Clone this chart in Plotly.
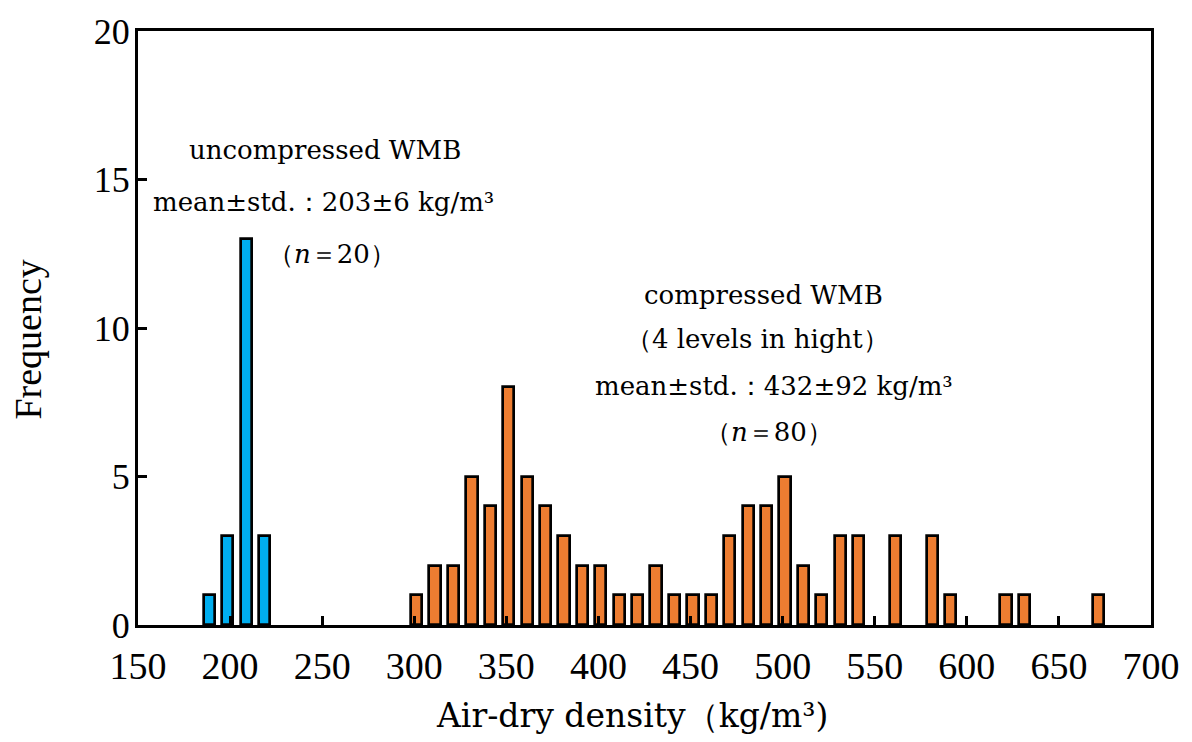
import plotly.graph_objects as go

# ---- data ----
uncomp_bins = [190, 200, 210, 220]
uncomp_freq = [1, 3, 13, 3]

comp_bins = [300, 310, 320, 330, 340, 350, 360, 370, 380, 390, 400, 410, 420, 430,
             440, 450, 460, 470, 480, 490, 500, 510, 520, 530, 540, 560, 580, 590,
             620, 630, 670]
comp_freq = [1, 2, 2, 5, 4, 8, 5, 4, 3, 2, 2, 1, 1, 2,
             1, 1, 1, 3, 4, 4, 5, 2, 1, 3, 3, 3, 3, 1,
             1, 1, 1]

x_ticks = [150, 200, 250, 300, 350, 400, 450, 500, 550, 600, 650, 700]
y_ticks = [0, 5, 10, 15, 20]

BLUE = "#00AEEF"
ORANGE = "#ED7D31"
BAR_W = 6.1

W, H = 1192, 742
ML, MR, MT, MB = 138, 40, 28, 117
PW, PH = W - ML - MR, H - MT - MB


def px2paper(px, py):
    return (px - ML) / PW, (H - MB - py) / PH


fig = go.Figure()
fig.add_trace(go.Bar(
    x=uncomp_bins, y=uncomp_freq, width=BAR_W, offset=-1.3 - BAR_W / 2,
    marker=dict(color=BLUE, line=dict(color="black", width=2.7)),
    name="uncompressed WMB", showlegend=False,
))
fig.add_trace(go.Bar(
    x=comp_bins, y=comp_freq, width=BAR_W, offset=1.3 - BAR_W / 2,
    marker=dict(color=ORANGE, line=dict(color="black", width=2.7)),
    name="compressed WMB", showlegend=False,
))

ann_font = dict(family="DejaVu Serif", size=26, color="black")
notes = [
    (325, 148, "uncompressed WMB"),
    (324, 200, "mean±std.：203±6 kg/m³"),
    (332, 252, "（<i>n</i>＝20）"),
    (764, 293, "compressed WMB"),
    (758, 338, "（4 levels in hight）"),
    (775, 385, "mean±std.：432±92 kg/m³"),
    (770, 431, "（<i>n</i>＝80）"),
]
for px, py, txt in notes:
    ax, ay = px2paper(px, py)
    fig.add_annotation(
        x=ax, y=ay, xref="paper", yref="paper",
        text=txt, showarrow=False, font=ann_font,
        xanchor="center", yanchor="middle",
    )

# axis titles as positioned annotations
tx, ty = px2paper(632, 716)
fig.add_annotation(x=tx, y=ty, xref="paper", yref="paper",
                   text="Air-dry density（kg/m³)", showarrow=False,
                   font=dict(family="DejaVu Serif", size=33, color="black"),
                   xanchor="center", yanchor="middle")
tx, ty = px2paper(28, 338)
fig.add_annotation(x=tx, y=ty, xref="paper", yref="paper",
                   text="Frequency", showarrow=False, textangle=-90,
                   font=dict(family="Liberation Serif", size=38, color="black"),
                   xanchor="center", yanchor="middle")

axis_common = dict(
    showline=True, linecolor="black", linewidth=3, mirror=True,
    ticks="inside", ticklen=9, tickwidth=2.5, tickcolor="black",
    showgrid=False, zeroline=False,
)
fig.update_xaxes(
    range=[150, 700], tickvals=x_ticks, ticktext=[str(v) for v in x_ticks],
    tickfont=dict(family="Liberation Serif", size=38, color="black"),
    ticklabelstandoff=5,
    **axis_common,
)
fig.update_yaxes(
    range=[0, 20], tickvals=y_ticks,
    tickfont=dict(family="Liberation Serif", size=36, color="black"),
    ticklabelstandoff=-2,
    **axis_common,
)
fig.update_layout(
    width=W, height=H,
    margin=dict(l=ML, r=MR, t=MT, b=MB, pad=0),
    paper_bgcolor="white", plot_bgcolor="white",
    bargap=0, barmode="overlay",
)
fig.write_html("out.html")
